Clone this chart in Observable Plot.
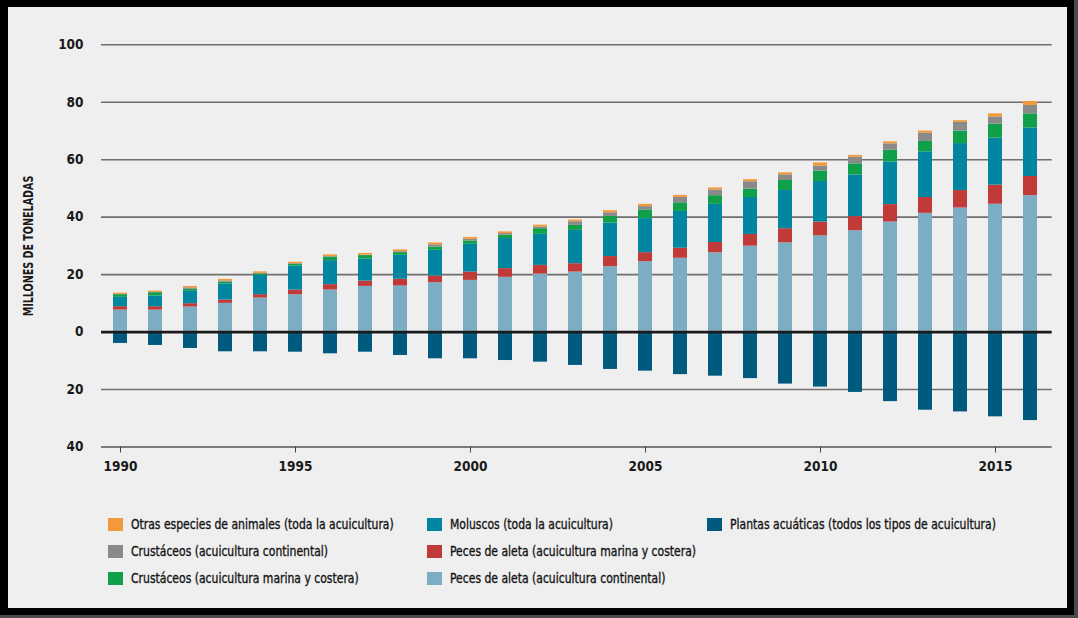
<!DOCTYPE html>
<html>
<head>
<meta charset="utf-8">
<script src="https://cdn.jsdelivr.net/npm/d3@7"></script>
<script src="https://cdn.jsdelivr.net/npm/@observablehq/plot@0.6"></script>
<style>
  html, body { margin: 0; padding: 0; background: #000; }
  #page { position: relative; width: 1078px; height: 618px; background: #000; overflow: hidden;
          font-family: "DejaVu Sans Condensed", "Liberation Sans Narrow", sans-serif; }
  #panel { position: absolute; left: 8px; top: 7px; width: 1059px; height: 601px; background: #efefef; }
  #edgeR { position: absolute; left: 1074px; top: 0; width: 4px; height: 618px; background: #4a4a4a; }
  #edgeB { position: absolute; left: 0; top: 615px; width: 1078px; height: 3px; background: #4a4a4a; }
  #chart { position: absolute; left: 0; top: 0; }
  #ylabel { position: absolute; left: 28px; top: 246px; transform: translate(-50%, -50%) rotate(-90deg) scaleX(0.76);
            white-space: nowrap; font-weight: bold; font-size: 14px; color: #1a1a1a; }
  .leg { position: absolute; display: flex; align-items: center; white-space: nowrap; height: 20px;
         font-size: 14.5px; color: #151515; }
  .sw { width: 15px; height: 13px; margin-right: 8px; flex: none; }
  .lt { display: inline-block; transform: scaleX(0.83); transform-origin: left center;
        -webkit-text-stroke: 0.35px #151515; }
</style>
</head>
<body>
<div id="page">
  <div id="panel"></div>
  <div id="edgeR"></div>
  <div id="edgeB"></div>
  <div id="chart"></div>
  <div id="ylabel">MILLONES DE TONELADAS</div>
</div>
<script>
// Producción acuícola mundial, millones de toneladas, 1990–2016
const years = d3.range(1990, 2017);

const pecesContinental = [7.67, 7.67, 8.72, 10.0, 11.86, 13.0, 14.65, 15.9, 16.05, 17.2,
  18.0, 19.07, 20.2, 20.9, 22.8, 24.5, 25.7, 27.6, 29.9, 31.07,
  33.5, 35.3, 38.3, 41.35, 43.2, 44.5, 47.5];
const pecesMarina = [1.16, 1.16, 1.16, 1.16, 1.16, 1.63, 1.86, 1.86, 2.33, 2.33,
  2.9, 3.02, 3.02, 2.9, 3.49, 3.14, 3.49, 3.6, 4.09, 4.9,
  4.79, 4.9, 6.07, 5.49, 6.07, 6.66, 6.66];
const moluscos = [3.26, 3.72, 4.3, 5.58, 6.74, 8.37, 8.37, 7.67, 8.37, 8.95,
  9.65, 10.47, 10.8, 11.6, 11.63, 11.86, 12.8, 13.26, 12.85, 13.3,
  14.13, 14.5, 14.83, 15.9, 16.35, 16.35, 16.9];
const crustMarina = [0.93, 1.16, 0.7, 0.6, 0.5, 0.58, 1.2, 1.2, 0.93, 1.1,
  1.16, 1.16, 1.98, 1.74, 2.33, 3.02, 3.02, 3.02, 2.92, 3.5,
  3.62, 3.85, 4.09, 3.62, 4.32, 4.9, 4.9];
const crustContinental = [0.1, 0.1, 0.5, 0.45, 0.2, 0.23, 0.2, 0.15, 0.3, 0.8,
  0.58, 0.58, 0.58, 1.28, 1.28, 1.16, 1.86, 1.98, 2.57, 1.98,
  1.75, 2.34, 2.22, 2.92, 3.04, 2.45, 2.92];
const otrasEspecies = [0.45, 0.45, 0.5, 0.55, 0.5, 0.5, 0.6, 0.6, 0.65, 0.65,
  0.65, 0.58, 0.65, 0.58, 0.7, 0.8, 0.7, 0.7, 0.7, 0.7,
  1.1, 0.6, 0.7, 0.7, 0.6, 1.1, 1.4];
// plantas acuáticas se dibujan por debajo de cero
const plantas = [3.95, 4.65, 5.7, 6.86, 6.86, 7.0, 7.56, 7.0, 8.14, 9.3,
  9.3, 9.9, 10.47, 11.6, 13.0, 13.6, 14.8, 15.35, 16.2, 18.1,
  19.15, 21.0, 24.2, 27.2, 27.8, 29.5, 30.8];

const yTicks = [-40, -20, 0, 20, 40, 60, 80, 100];
const xTicks = [1990, 1995, 2000, 2005, 2010, 2015];

// stacking order from zero upward, then plants downward
const series = [
  {name: "Peces de aleta (acuicultura continental)", color: "#7dadc3", values: pecesContinental, sign: 1},
  {name: "Peces de aleta (acuicultura marina y costera)", color: "#c03a38", values: pecesMarina, sign: 1},
  {name: "Moluscos (toda la acuicultura)", color: "#0086a0", values: moluscos, sign: 1},
  {name: "Crustáceos (acuicultura marina y costera)", color: "#10a04a", values: crustMarina, sign: 1},
  {name: "Crustáceos (acuicultura continental)", color: "#8a8a8a", values: crustContinental, sign: 1},
  {name: "Otras especies de animales (toda la acuicultura)", color: "#f3983b", values: otrasEspecies, sign: 1},
  {name: "Plantas acuáticas (todos los tipos de acuicultura)", color: "#005a7e", values: plantas, sign: -1}
];

const rows = series.flatMap(s => years.map((yr, i) => ({year: yr, series: s.name, value: s.sign * s.values[i]})));

const chart = Plot.plot({
  width: 1078,
  height: 480,
  marginLeft: 101,
  marginRight: 26.3,
  marginTop: 44.3,
  marginBottom: 33.5,
  style: {
    background: "transparent",
    fontFamily: '"DejaVu Sans Condensed", "Liberation Sans Narrow", sans-serif',
    fontSize: "13.5px",
    fontWeight: "bold",
    color: "#1a1a1a"
  },
  x: {type: "band", domain: years, paddingInner: 0.602, paddingOuter: 0.305, align: 0.45, label: null},
  y: {domain: [-40, 100], label: null},
  color: {domain: series.map(s => s.name), range: series.map(s => s.color)},
  marks: [
    Plot.ruleY(yTicks.filter(d => d !== 0 && d !== -40), {stroke: "#6f6f6f", strokeWidth: 1.6}),
    Plot.ruleY([-40], {stroke: "#555", strokeWidth: 1.6}),
    Plot.barY(rows, {x: "year", y: "value", fill: "series"}),
    Plot.ruleY([0], {stroke: "#1b1b1b", strokeWidth: 2.6}),
    Plot.axisY({ticks: yTicks, tickSize: 0, tickPadding: 18, label: null, tickFormat: d => Math.abs(d), fill: "#1a1a1a"}),
    Plot.axisX({ticks: xTicks, tickSize: 6, tickPadding: 8, label: null, tickFormat: d => String(d), stroke: "#444", fill: "#1a1a1a"})
  ]
});
document.getElementById("chart").appendChild(chart);

// legend: three columns, filled column by column
const legendOrder = [
  "Otras especies de animales (toda la acuicultura)",
  "Crustáceos (acuicultura continental)",
  "Crustáceos (acuicultura marina y costera)",
  "Moluscos (toda la acuicultura)",
  "Peces de aleta (acuicultura marina y costera)",
  "Peces de aleta (acuicultura continental)",
  "Plantas acuáticas (todos los tipos de acuicultura)"
];
const colX = [108, 427, 707];
const rowY = [524, 551, 578];
const page = document.getElementById("page");
legendOrder.forEach((name, i) => {
  const s = series.find(d => d.name === name);
  const item = document.createElement("div");
  item.className = "leg";
  item.style.left = colX[Math.floor(i / 3)] + "px";
  item.style.top = (rowY[i % 3] - 10) + "px";
  const sw = document.createElement("span");
  sw.className = "sw";
  sw.style.background = s.color;
  const tx = document.createElement("span");
  tx.className = "lt";
  tx.textContent = name;
  item.appendChild(sw);
  item.appendChild(tx);
  page.appendChild(item);
});
</script>
</body>
</html>
